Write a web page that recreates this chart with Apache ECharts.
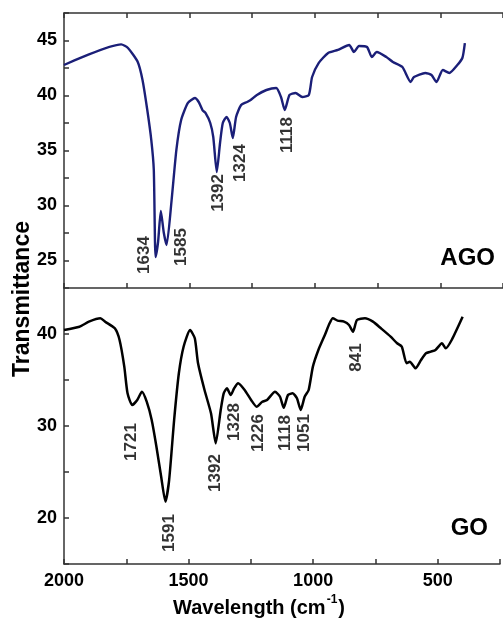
<!DOCTYPE html>
<html>
<head>
<meta charset="utf-8">
<script src="https://cdn.jsdelivr.net/npm/echarts@6/dist/echarts.min.js"></script>
<style>
  html, body { margin: 0; padding: 0; background: #fff; }
  #chart { width: 503px; height: 620px; }
</style>
</head>
<body>
<div id="chart"></div>
<script>
// AGO spectrum (top panel)
const agoWavenumber = [2000, 1772, 1745, 1706, 1687, 1668, 1652, 1642, 1635, 1625, 1614, 1602, 1591, 1571, 1552, 1533, 1506, 1478, 1463, 1448, 1436, 1417, 1405, 1391, 1378, 1367, 1352, 1339, 1327, 1314, 1294, 1270, 1256, 1231, 1193, 1154, 1135, 1120, 1101, 1077, 1050, 1024, 1011, 985, 947, 908, 863, 844, 824, 792, 773, 753, 715, 689, 651, 618, 605, 560, 535, 515, 490, 464, 432, 412, 402];
const agoTransmittance = [42.77, 44.65, 44.32, 43.05, 41.41, 38.68, 35.95, 33.23, 25.32, 26.68, 29.5, 27.5, 26.41, 30.5, 35.05, 37.77, 39.32, 39.77, 39.41, 38.68, 38.41, 37.5, 36.23, 33.05, 35.68, 37.5, 38.05, 37.5, 36.14, 38.05, 39.14, 39.41, 39.59, 40.05, 40.5, 40.68, 39.86, 38.68, 40.05, 40.23, 39.86, 40.05, 41.68, 42.95, 43.86, 44.14, 44.59, 43.95, 44.5, 44.41, 43.5, 43.95, 43.5, 43.05, 42.59, 41.23, 41.68, 42.05, 41.86, 41.23, 42.32, 42.05, 42.77, 43.41, 44.77];

// GO spectrum (bottom panel)
const goWavenumber = [2000, 1938, 1900, 1854, 1835, 1796, 1777, 1758, 1745, 1726, 1706, 1687, 1668, 1648, 1629, 1610, 1593, 1578, 1558, 1539, 1520, 1494, 1475, 1462, 1436, 1410, 1391, 1371, 1359, 1346, 1331, 1317, 1301, 1275, 1249, 1227, 1204, 1185, 1153, 1133, 1118, 1101, 1082, 1065, 1050, 1034, 1018, 1001, 979, 953, 934, 921, 902, 876, 856, 840, 824, 792, 760, 728, 689, 663, 644, 625, 612, 589, 567, 547, 528, 509, 483, 468, 444, 400];
const goTransmittance = [40.43, 40.79, 41.34, 41.71, 41.34, 40.62, 39.35, 36.45, 33.55, 32.28, 32.83, 33.73, 32.64, 30.65, 27.75, 24.49, 21.78, 24.13, 30.65, 35.73, 38.62, 40.43, 39.53, 36.82, 33.91, 31.38, 28.12, 31.74, 33.55, 34.1, 33.37, 34.1, 34.64, 33.91, 32.83, 32.1, 32.64, 32.83, 33.73, 33.18, 31.99, 33.37, 33.55, 33.01, 31.74, 33.18, 33.91, 36.45, 38.26, 39.89, 41.16, 41.71, 41.45, 41.34, 40.98, 40.25, 41.52, 41.71, 41.34, 40.62, 39.71, 38.99, 38.62, 36.82, 36.99, 36.27, 37.17, 37.9, 38.08, 38.26, 38.99, 38.44, 39.35, 41.88];

// peak annotations: text, and where its label sits (wavenumber, transmittance)
const agoPeakText = ['1634', '1585', '1392', '1324', '1118'];
const agoPeakX = [1681, 1533, 1384, 1299, 1108];
const agoPeakY = [25.5, 26.23, 31.14, 33.86, 36.41];

const goPeakText = ['1721', '1591', '1392', '1328', '1226', '1118', '1051', '841'];
const goPeakX = [1730, 1577, 1392, 1316, 1220, 1111, 1036, 828];
const goPeakY = [28.26, 18.37, 24.89, 30.43, 29.24, 29.24, 29.24, 37.45];

// tick labels
const xTickLabels = [2000, 1500, 1000, 500];
const agoYTickLabels = [25, 30, 35, 40, 45];
const goYTickLabels = [20, 30, 40];

const FONT = 'Liberation Sans, Arial, sans-serif';
const AXIS_COLOR = '#333';

function pairs(xs, ys) {
  return xs.map((x, i) => [x, ys[i]]);
}

function peakData(texts, xs, ys) {
  return texts.map((t, i) => ({ value: [xs[i], ys[i]], name: t }));
}

function xAxisBase(grid, pos, showLabel) {
  return {
    type: 'value',
    gridIndex: grid,
    position: pos,
    inverse: true,
    min: 250,
    max: 2000,
    interval: 250,
    splitLine: { show: false },
    axisLine: { show: true, onZero: false, lineStyle: { color: AXIS_COLOR, width: 1.5 } },
    axisTick: { show: true, inside: true, length: 5, lineStyle: { color: AXIS_COLOR, width: 1.5 } },
    axisLabel: {
      show: showLabel,
      margin: 8,
      color: '#000',
      fontFamily: FONT,
      fontWeight: 'bold',
      fontSize: 18,
      formatter: v => (xTickLabels.includes(v) ? String(v) : '')
    }
  };
}

function yAxisBase(grid, min, max, interval, labels) {
  return {
    type: 'value',
    gridIndex: grid,
    min: min,
    max: max,
    interval: interval,
    splitLine: { show: false },
    axisLine: { show: true, onZero: false, lineStyle: { color: AXIS_COLOR, width: 1.5 } },
    axisTick: { show: true, inside: true, length: 5, lineStyle: { color: AXIS_COLOR, width: 1.5 } },
    axisLabel: {
      margin: 7,
      color: '#000',
      fontFamily: FONT,
      fontWeight: 'bold',
      fontSize: 18,
      formatter: v => (labels.includes(v) ? String(v) : '')
    }
  };
}

function peakSeries(xi, yi, data) {
  return {
    type: 'scatter',
    xAxisIndex: xi,
    yAxisIndex: yi,
    symbolSize: 1,
    itemStyle: { color: 'rgba(0,0,0,0)' },
    silent: true,
    data: data,
    label: {
      show: true,
      position: 'inside',
      rotate: 90,
      formatter: p => p.name,
      color: '#000',
      fontFamily: FONT,
      fontWeight: 'bold',
      fontSize: 17
    }
  };
}

const chart = echarts.init(document.getElementById('chart'), null, { renderer: 'canvas' });

const option = {
  animation: false,
  backgroundColor: '#fff',
  grid: [
    { left: 64, top: 13, width: 453, height: 275 },
    { left: 64, top: 288, width: 453, height: 276 }
  ],
  xAxis: [
    xAxisBase(0, 'bottom', false),
    xAxisBase(0, 'top', false),
    xAxisBase(1, 'bottom', true)
  ],
  yAxis: [
    yAxisBase(0, 22.5, 47.5, 2.5, agoYTickLabels),
    yAxisBase(1, 15, 45, 5, goYTickLabels)
  ],
  series: [
    {
      name: 'AGO',
      type: 'line',
      xAxisIndex: 0,
      yAxisIndex: 0,
      showSymbol: false,
      smooth: 0.2,
      lineStyle: { color: '#1b1f78', width: 2.4 },
      data: pairs(agoWavenumber, agoTransmittance)
    },
    {
      name: 'GO',
      type: 'line',
      xAxisIndex: 2,
      yAxisIndex: 1,
      showSymbol: false,
      smooth: 0.2,
      lineStyle: { color: '#000', width: 2.5 },
      data: pairs(goWavenumber, goTransmittance)
    },
    peakSeries(0, 0, peakData(agoPeakText, agoPeakX, agoPeakY)),
    peakSeries(2, 1, peakData(goPeakText, goPeakX, goPeakY))
  ],
  graphic: [
    {
      type: 'text',
      x: 23,
      y: 299,
      rotation: Math.PI / 2,
      style: {
        text: 'Transmittance',
        fill: '#000',
        font: 'bold 23px ' + FONT,
        textAlign: 'center',
        textVerticalAlign: 'middle'
      }
    },
    {
      type: 'text',
      x: 259,
      y: 606,
      style: {
        text: '{a|Wavelength (cm}{s|-1}{a|)}',
        fill: '#000',
        textAlign: 'center',
        textVerticalAlign: 'middle',
        rich: {
          a: { fontFamily: FONT, fontWeight: 'bold', fontSize: 20, lineHeight: 24, verticalAlign: 'bottom' },
          s: { fontFamily: FONT, fontWeight: 'bold', fontSize: 12, lineHeight: 24, verticalAlign: 'top', padding: [0, 1, 0, 1] }
        }
      }
    },
    {
      type: 'text',
      x: 495,
      y: 258,
      style: {
        text: 'AGO',
        fill: '#000',
        font: 'bold 24px ' + FONT,
        textAlign: 'right',
        textVerticalAlign: 'middle'
      }
    },
    {
      type: 'text',
      x: 488,
      y: 528,
      style: {
        text: 'GO',
        fill: '#000',
        font: 'bold 24px ' + FONT,
        textAlign: 'right',
        textVerticalAlign: 'middle'
      }
    }
  ]
};

chart.setOption(option);
</script>
</body>
</html>
